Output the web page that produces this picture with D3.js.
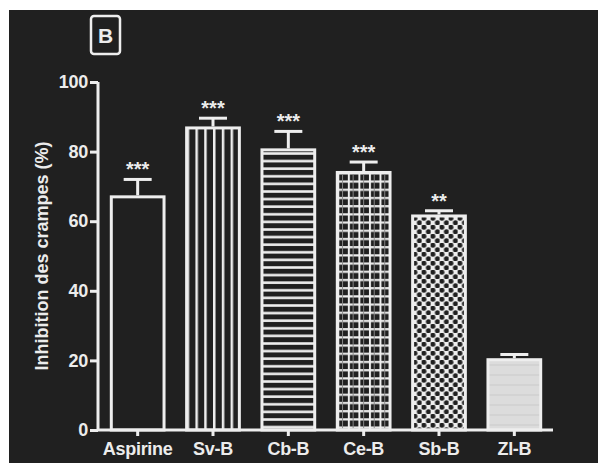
<!DOCTYPE html>
<html>
<head>
<meta charset="utf-8">
<script src="https://cdn.jsdelivr.net/npm/d3@7"></script>
<style>
  body { margin: 0; background: #fff; }
  svg { display: block; }
  text { font-family: "Liberation Sans", Arial, sans-serif; font-weight: bold; fill: #ececec; }
</style>
</head>
<body>
<svg></svg>
<script>
const categories = ["Aspirine", "Sv-B", "Cb-B", "Ce-B", "Sb-B", "Zl-B"]
const means = [67, 86.8, 80.5, 74, 61.5, 20.2]
const sems = [5, 2.8, 5.3, 3, 1.5, 1.5]
const stars = ["***", "***", "***", "***", "**", ""]
const yTicks = [0, 20, 40, 60, 80, 100]

const fg = "#eeeeee"
const bg = "#202020"

const svg = d3.select("svg")
  .attr("width", 598)
  .attr("height", 463)

// dark panel, white strip on top and left
svg.append("rect")
  .attr("x", 9).attr("y", 10)
  .attr("width", 589).attr("height", 453)
  .attr("fill", bg)

const x = d3.scaleBand()
  .domain(categories)
  .range([100, 552])
  .paddingInner(0.3)
  .paddingOuter(0.15)

const y = d3.scaleLinear()
  .domain([0, 100])
  .range([430, 82])

// fill patterns, one per bar, anchored on the bar's left edge
const defs = svg.append("defs")

function pat(i, w, h) {
  return defs.append("pattern")
    .attr("id", "p" + i)
    .attr("patternUnits", "userSpaceOnUse")
    .attr("x", x(categories[i]))
    .attr("y", 0)
    .attr("width", w)
    .attr("height", h)
}

// Sv-B vertical stripes
let p = pat(1, x.bandwidth() / 6, 10)
p.append("rect").attr("width", 20).attr("height", 20).attr("fill", bg)
p.append("line").attr("x1", 0).attr("x2", 0).attr("y1", 0).attr("y2", 10)
  .attr("stroke", fg).attr("stroke-width", 5)

// Cb-B horizontal stripes
p = pat(2, 10, 7.6)
p.append("rect").attr("width", 20).attr("height", 20).attr("fill", bg)
p.append("line").attr("x1", 0).attr("x2", 10).attr("y1", 1.5).attr("y2", 1.5)
  .attr("stroke", fg).attr("stroke-width", 2.6)

// Ce-B grid
p = pat(3, x.bandwidth() / 5, 8.2)
p.append("rect").attr("width", 20).attr("height", 20).attr("fill", bg)
p.append("line").attr("x1", 0).attr("x2", 20).attr("y1", 1.2).attr("y2", 1.2)
  .attr("stroke", fg).attr("stroke-width", 2.2)
p.append("line").attr("x1", 0).attr("x2", 0).attr("y1", 0).attr("y2", 20)
  .attr("stroke", fg).attr("stroke-width", 4)
p.append("line").attr("x1", x.bandwidth() / 10).attr("x2", x.bandwidth() / 10).attr("y1", 0).attr("y2", 20)
  .attr("stroke", "#8a8a8a").attr("stroke-width", 1)

// Sb-B white with dark dots in a diagonal lattice
p = pat(4, 9, 9)
p.append("rect").attr("width", 20).attr("height", 20).attr("fill", fg)
p.append("circle").attr("cx", 2.25).attr("cy", 2.25).attr("r", 2.5).attr("fill", bg)
p.append("circle").attr("cx", 6.75).attr("cy", 6.75).attr("r", 2.5).attr("fill", bg)

// Zl-B light grey
p = pat(5, 10, 10)
p.append("rect").attr("width", 20).attr("height", 20).attr("fill", "#dcdcdc")
p.append("line").attr("x1", 0).attr("x2", 10).attr("y1", 5).attr("y2", 5)
  .attr("stroke", "#cacaca").attr("stroke-width", 1)

const fills = [bg, "url(#p1)", "url(#p2)", "url(#p3)", "url(#p4)", "url(#p5)"]

// bars
svg.selectAll("rect.bar")
  .data(categories)
  .enter()
  .append("rect")
  .attr("class", "bar")
  .attr("x", function(d) {return x(d)})
  .attr("y", function(d, i) {return y(means[i])})
  .attr("width", x.bandwidth())
  .attr("height", function(d, i) {return y(0) - y(means[i])})
  .attr("fill", function(d, i) {return fills[i]})
  .attr("stroke", fg)
  .attr("stroke-width", 3)

// error bars
const cx = function(d) {return x(d) + x.bandwidth() / 2}
svg.selectAll("line.err")
  .data(categories)
  .enter()
  .append("line")
  .attr("class", "err")
  .attr("x1", cx).attr("x2", cx)
  .attr("y1", function(d, i) {return y(means[i]) - 1.5})
  .attr("y2", function(d, i) {return y(means[i] + sems[i])})
  .attr("stroke", fg)
  .attr("stroke-width", 3)

svg.selectAll("line.cap")
  .data(categories)
  .enter()
  .append("line")
  .attr("class", "cap")
  .attr("x1", function(d) {return cx(d) - 14})
  .attr("x2", function(d) {return cx(d) + 14})
  .attr("y1", function(d, i) {return y(means[i] + sems[i])})
  .attr("y2", function(d, i) {return y(means[i] + sems[i])})
  .attr("stroke", fg)
  .attr("stroke-width", 3)

// significance stars
svg.selectAll("text.star")
  .data(categories)
  .enter()
  .append("text")
  .attr("class", "star")
  .attr("x", cx)
  .attr("y", function(d, i) {return y(means[i] + sems[i]) - 3})
  .attr("text-anchor", "middle")
  .attr("font-size", "20px")
  .text(function(d, i) {return stars[i]})

// axes
const yAxis = svg.append("g")
  .attr("transform", "translate(98,0)")
  .call(d3.axisLeft(y).tickValues(yTicks).tickSize(8).tickPadding(2))
yAxis.select(".domain").attr("d", "M0," + y(100) + "V" + y(0))

const xAxis = svg.append("g")
  .attr("transform", "translate(0," + y(0) + ")")
  .call(d3.axisBottom(x).tickSize(6).tickPadding(6))
xAxis.select(".domain").attr("d", "M97,0H553")

svg.selectAll(".domain, .tick line")
  .attr("stroke", fg)
  .attr("stroke-width", 3)
svg.selectAll(".tick text")
  .attr("fill", fg)
  .attr("font-family", "'Liberation Sans', Arial, sans-serif")
  .attr("font-weight", "bold")
  .attr("font-size", "18px")
  .attr("letter-spacing", "-0.3px")

// y label
svg.append("text")
  .attr("transform", "translate(48,256) rotate(-90)")
  .attr("text-anchor", "middle")
  .attr("font-size", "18px")
  .text("Inhibition des crampes (%)")

// panel letter
svg.append("rect")
  .attr("x", 91).attr("y", 16)
  .attr("width", 29).attr("height", 38)
  .attr("rx", 3)
  .attr("fill", "none")
  .attr("stroke", fg)
  .attr("stroke-width", 2.5)
svg.append("text")
  .attr("x", 105.5).attr("y", 43)
  .attr("text-anchor", "middle")
  .attr("font-size", "21px")
  .text("B")
</script>
</body>
</html>
